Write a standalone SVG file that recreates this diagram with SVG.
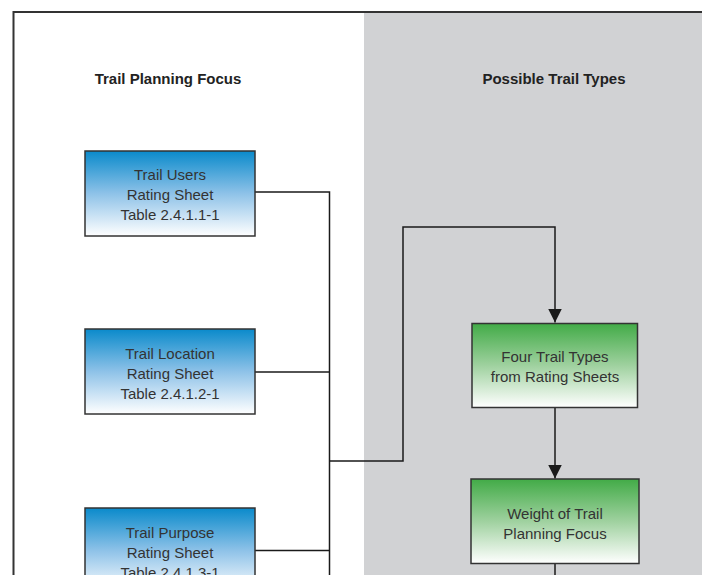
<svg xmlns="http://www.w3.org/2000/svg" width="702" height="575" viewBox="0 0 702 575">
  <defs>
    <linearGradient id="gBlue" x1="0" y1="0" x2="0" y2="1">
      <stop offset="0" stop-color="#0a8acb"/>
      <stop offset="0.5" stop-color="#8ec2e8"/>
      <stop offset="1" stop-color="#ffffff"/>
    </linearGradient>
    <linearGradient id="gGreen" x1="0" y1="0" x2="0" y2="1">
      <stop offset="0" stop-color="#42ab47"/>
      <stop offset="0.5" stop-color="#9fd19f"/>
      <stop offset="1" stop-color="#ffffff"/>
    </linearGradient>
    <marker id="arrow" viewBox="0 0 14 14" refX="14" refY="7" markerWidth="14" markerHeight="14" markerUnits="userSpaceOnUse" orient="auto">
      <path d="M0,0 L14,7 L0,14 Z" fill="#1a1a1a"/>
    </marker>
  </defs>
  <style>
    .title { font-family: "Liberation Sans", Arial, sans-serif; font-weight: bold; font-size: 15px; fill: #222; text-anchor: middle; }
    .lbl { font-family: "Liberation Sans", Arial, sans-serif; font-size: 15px; fill: #333; text-anchor: middle; }
    .box { stroke: #333; stroke-width: 1.5; }
    .conn { fill: none; stroke: #1a1a1a; stroke-width: 1.5; }
  </style>
  <rect x="0" y="0" width="702" height="575" fill="#ffffff"/>
  <rect x="364" y="12" width="338" height="563" fill="#d1d2d4"/>
  <path d="M13.5,575 V12 H702" fill="none" stroke="#333" stroke-width="2"/>

  <text class="title" x="168" y="84">Trail Planning Focus</text>
  <text class="title" x="554" y="84">Possible Trail Types</text>

  <g id="connectors">
    <path class="conn" d="M255,192 H329.5 V575"/>
    <path class="conn" d="M255,372 H329.5"/>
    <path class="conn" d="M255,550.5 H329.5"/>
    <path class="conn" d="M329.5,461 H403 V227 H555 V322.5" marker-end="url(#arrow)"/>
    <path class="conn" d="M555,407.5 V478.5" marker-end="url(#arrow)"/>
    <path class="conn" d="M555,563.5 V575"/>
  </g>

  <g id="trail-users">
    <rect class="box" x="85" y="151" width="170" height="85" fill="url(#gBlue)"/>
    <text class="lbl" x="170" y="180">Trail Users</text>
    <text class="lbl" x="170" y="200">Rating Sheet</text>
    <text class="lbl" x="170" y="219.5">Table 2.4.1.1-1</text>
  </g>
  <g id="trail-location">
    <rect class="box" x="85" y="329" width="170" height="85" fill="url(#gBlue)"/>
    <text class="lbl" x="170" y="359">Trail Location</text>
    <text class="lbl" x="170" y="379">Rating Sheet</text>
    <text class="lbl" x="170" y="398.5">Table 2.4.1.2-1</text>
  </g>
  <g id="trail-purpose">
    <rect class="box" x="85" y="508" width="170" height="85" fill="url(#gBlue)"/>
    <text class="lbl" x="170" y="538">Trail Purpose</text>
    <text class="lbl" x="170" y="558">Rating Sheet</text>
    <text class="lbl" x="170" y="577.5">Table 2.4.1.3-1</text>
  </g>
  <g id="four-trail-types">
    <rect class="box" x="472" y="323.5" width="165.5" height="84" fill="url(#gGreen)"/>
    <text class="lbl" x="555" y="362">Four Trail Types</text>
    <text class="lbl" x="555" y="382">from Rating Sheets</text>
  </g>
  <g id="weight-focus">
    <rect class="box" x="471" y="479" width="168" height="84.5" fill="url(#gGreen)"/>
    <text class="lbl" x="555" y="519">Weight of Trail</text>
    <text class="lbl" x="555" y="539">Planning Focus</text>
  </g>
</svg>
